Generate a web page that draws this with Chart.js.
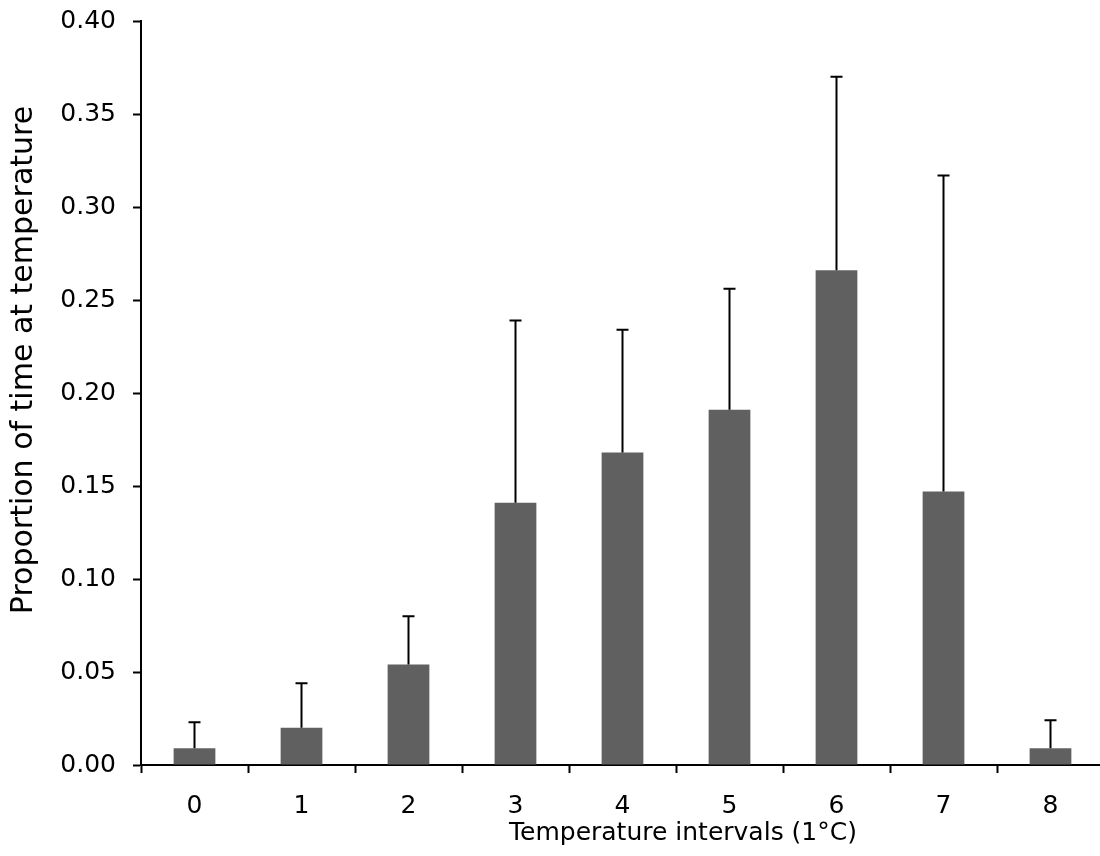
<!DOCTYPE html>
<html>
<head>
<meta charset="utf-8">
<script src="https://cdn.jsdelivr.net/npm/chart.js@4/dist/chart.umd.min.js"></script>
<style>
  html, body { margin: 0; padding: 0; background: #fff; overflow: hidden; }
  canvas { display: block; }
</style>
</head>
<body>
<canvas id="tempChart" width="1106" height="856"></canvas>
<script>
// datos
const intervals = ['0', '1', '2', '3', '4', '5', '6', '7', '8'];
const proportion = [0.009, 0.020, 0.054, 0.141, 0.168, 0.191, 0.266, 0.147, 0.009];
const errorTop = [0.023, 0.044, 0.080, 0.239, 0.234, 0.256, 0.370, 0.317, 0.024];
const xTitle = 'Temperature intervals (1°C)';
const yTitle = 'Proportion of time at temperature';

const fontFamily = '"DejaVu Sans", Arial, sans-serif';

// dibuja las barras de error (solo hacia arriba)
const errorBars = {
    id: 'errorBars',
    afterDatasetsDraw(chart) {
        const ctx = chart.ctx;
        const meta = chart.getDatasetMeta(0);
        const y = chart.scales.y;
        ctx.save();
        ctx.strokeStyle = '#000';
        ctx.lineWidth = 2;
        meta.data.forEach((bar, i) => {
            const x = bar.x;
            const yTop = y.getPixelForValue(errorTop[i]);
            ctx.beginPath();
            ctx.moveTo(x, bar.y);
            ctx.lineTo(x, yTop);
            ctx.moveTo(x - 6, yTop);
            ctx.lineTo(x + 6, yTop);
            ctx.stroke();
        });
        ctx.restore();
    }
};

// titulos de los ejes, descentrados como en el original
const axisTitles = {
    id: 'axisTitles',
    afterDraw(chart) {
        const ctx = chart.ctx;
        ctx.save();
        ctx.fillStyle = '#000';
        ctx.textAlign = 'center';

        ctx.font = '25px ' + fontFamily;
        ctx.textBaseline = 'alphabetic';
        ctx.fillText(xTitle, 683, 840);

        ctx.translate(24, 360);
        ctx.rotate(-Math.PI / 2);
        ctx.font = '30px ' + fontFamily;
        ctx.textBaseline = 'middle';
        ctx.fillText(yTitle, 0, 0);
        ctx.restore();
    }
};

new Chart(document.getElementById('tempChart'), {
    type: 'bar',
    data: {
        labels: intervals,
        datasets: [{
            data: proportion,
            backgroundColor: '#606060',
            borderWidth: 0,
            barPercentage: 0.39,
            categoryPercentage: 1
        }]
    },
    options: {
        responsive: false,
        animation: false,
        layout: { padding: { top: 21, right: 2, left: 0, bottom: 0 } },
        plugins: { legend: { display: false }, tooltip: { enabled: false } },
        scales: {
            x: {
                grid: { drawOnChartArea: false, tickLength: 8, tickWidth: 2, tickColor: '#000', offset: true },
                border: { color: '#000', width: 2 },
                ticks: { color: '#000', padding: 18, font: { family: fontFamily, size: 25 } },
                afterFit(scale) {
                    scale.height = 91;
                    scale.paddingLeft = 0;
                    scale.paddingRight = 0;
                }
            },
            y: {
                min: 0,
                max: 0.4,
                grid: { drawOnChartArea: false, tickLength: 8, tickWidth: 2, tickColor: '#000' },
                border: { color: '#000', width: 2 },
                ticks: {
                    stepSize: 0.05,
                    color: '#000',
                    padding: 17,
                    font: { family: fontFamily, size: 25 },
                    callback: v => v.toFixed(2)
                },
                afterFit(scale) {
                    scale.width = 141;
                    scale.paddingTop = 0;
                    scale.paddingBottom = 0;
                }
            }
        }
    },
    plugins: [errorBars, axisTitles]
});
</script>
</body>
</html>
